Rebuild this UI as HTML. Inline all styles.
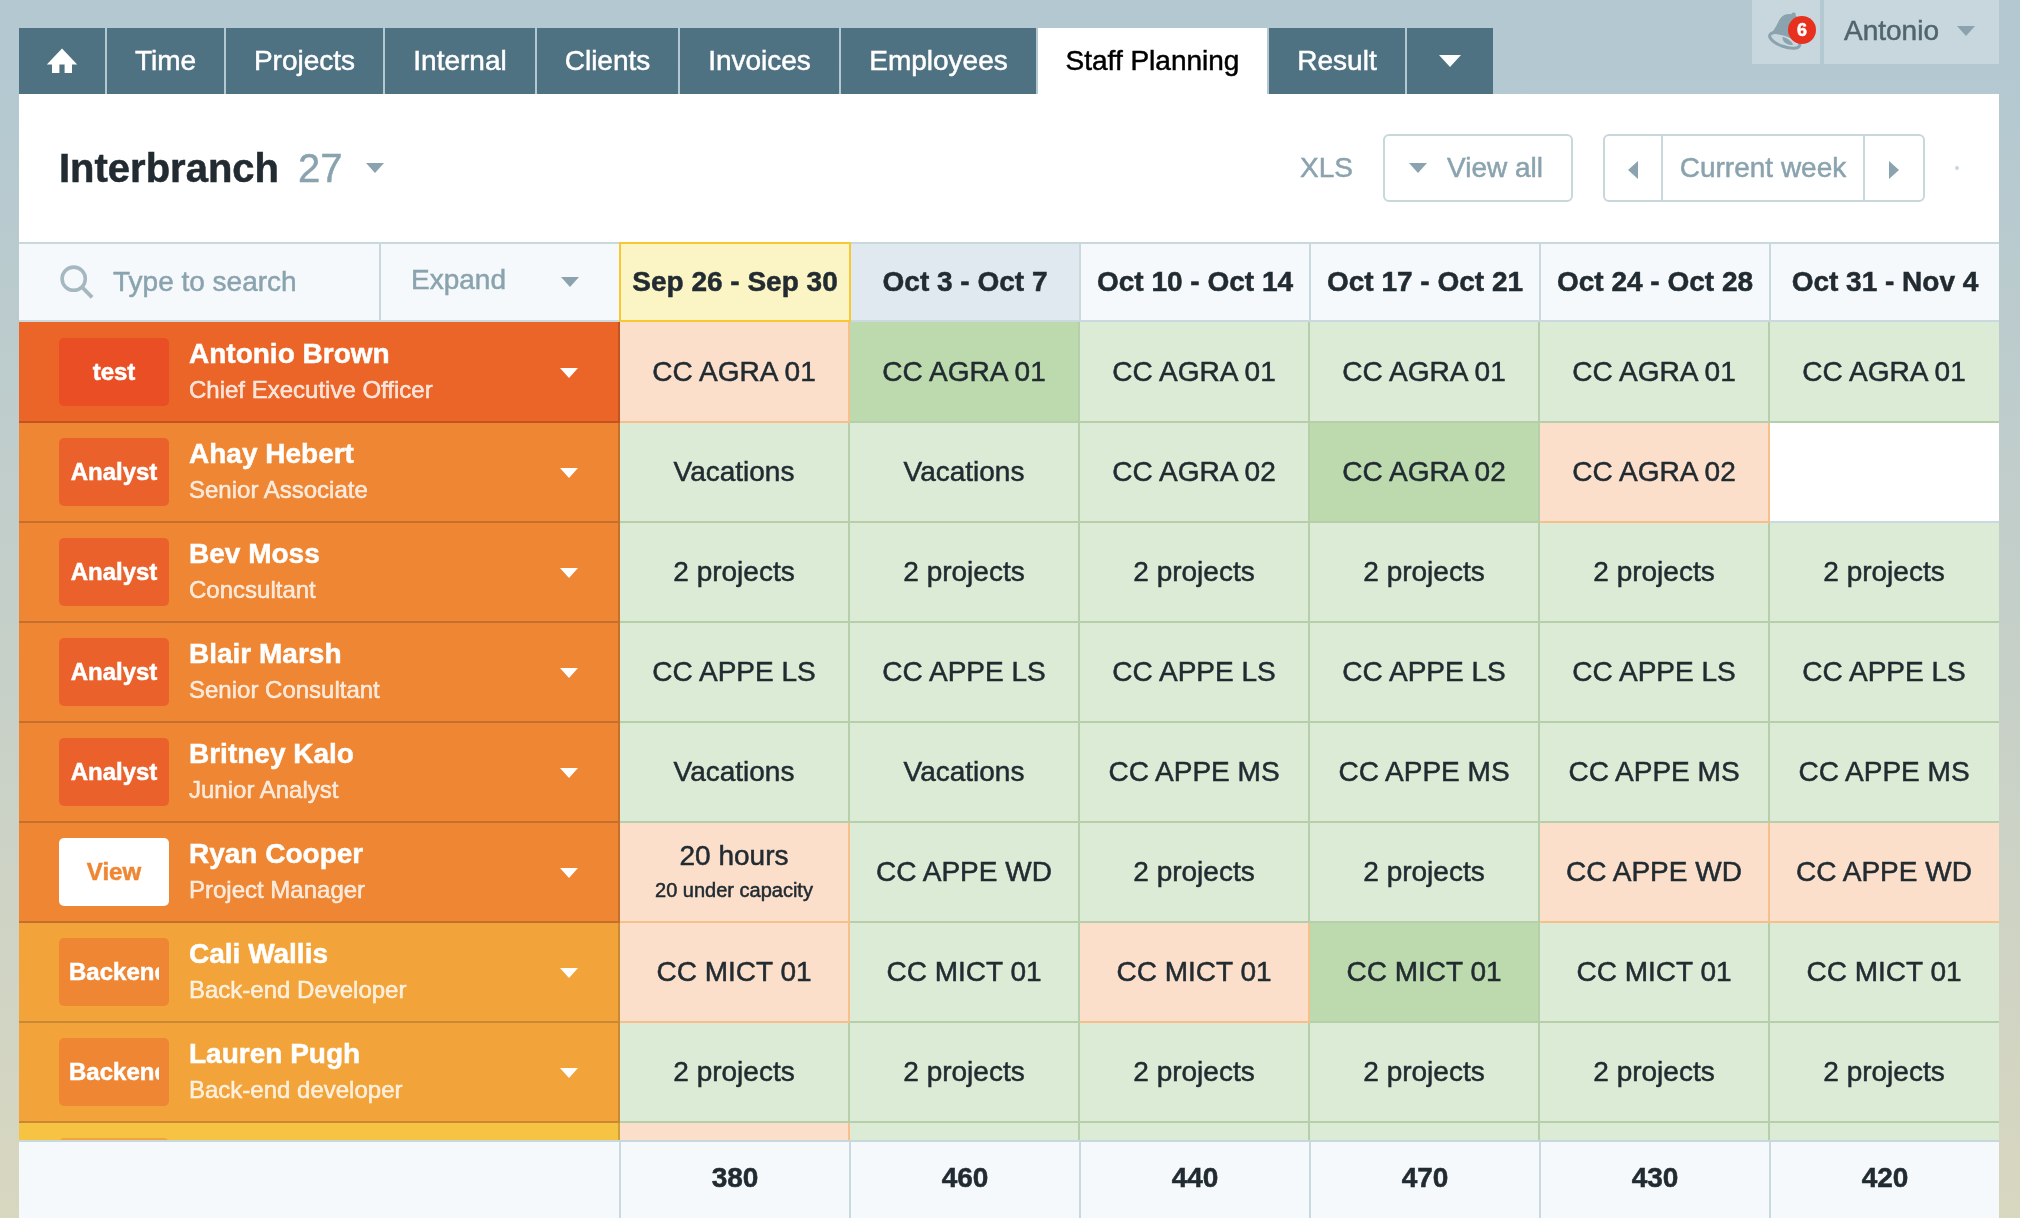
<!DOCTYPE html>
<html lang="en">
<head>
<meta charset="utf-8">
<title>Staff Planning</title>
<style>
*{box-sizing:border-box;margin:0;padding:0}
html{background:#b3c8d1}
body{width:2020px;height:1218px;position:relative;font-family:"Liberation Sans",sans-serif;font-size:28px;color:#212b31;
 background:linear-gradient(to bottom,#b3c8d1 0,#b3c8d1 60px,#d8d7c0 1218px) no-repeat 0 0/2020px 1218px}
#app{position:absolute;left:0;top:0;width:2020px;height:1218px;overflow:hidden;will-change:transform;-webkit-text-stroke:0.5px}
.tri{position:absolute;width:0;height:0;border-style:solid;border-color:transparent;display:block}
.tri.td,.tri.tg,.tri.tw{border-width:10px 9px 0 9px}
.tri.td{border-top-color:#8aa3ae}
.tri.tg{border-top-color:#8aa3ae}
.tri.tw{border-top-color:#fff}
.tri.tl{border-width:9px 10px 9px 0;border-right-color:#8aa3ae}
.tri.tr{border-width:9px 0 9px 10px;border-left-color:#8aa3ae}
.ubox{position:absolute;top:0;height:64px;background:#c8d7de}
.bellbox{left:1752px;width:68px}
.bell{position:absolute;left:0;top:0}
.cnt{position:absolute;left:36px;top:16px;width:28px;height:28px;border-radius:14px;background:#e8301f;color:#fff;font-weight:bold;font-size:18px;line-height:28px;text-align:center}
.userbox{left:1824px;width:175px}
.uname{position:absolute;left:20px;top:0;line-height:62px;color:#50656f}
.nav{position:absolute;left:0;top:28px;height:66px;width:2020px}
.tab{position:absolute;top:0;height:66px;background:#4f7283;color:#fff;text-align:center;line-height:66px;white-space:nowrap}
.tab.active{background:#fff;color:#000}
.tab svg{display:block}
.panel{position:absolute;left:19px;top:94px;width:1980px;height:1124px;background:#fff;overflow:hidden}
.panel>.tri{margin-left:-19px;margin-top:-94px}
.title{position:absolute;left:40px;top:50px;font-size:40px;line-height:48px;white-space:nowrap}
.title .num{color:#8aa3ae;margin-left:19px}
.xls{position:absolute;left:1281px;top:58px;line-height:32px;color:#8aa3ae}
.btn{position:absolute;top:40px;height:68px;border:2px solid #c7d7dc;border-radius:6px;color:#8aa3ae;background:#fff}
.viewall{left:1364px;width:190px}
.viewall span{position:absolute;left:62px;top:0;line-height:64px;white-space:nowrap}
.week{left:1584px;width:322px}
.week .cw{position:absolute;left:56px;top:0;width:204px;height:64px;border-left:2px solid #c8d9de;border-right:2px solid #c8d9de;text-align:center;line-height:64px;white-space:nowrap}
.dot{position:absolute;left:1936px;top:72px;width:4px;height:4px;border-radius:2px;background:#c8d9de}
.thead{position:absolute;left:0;top:148px;width:1980px;height:80px;background:#f5f9fb;border-top:2px solid #c8d9de;border-bottom:2px solid #c9d9de}
.search{position:absolute;left:0;top:0;width:362px;height:76px;border-right:2px solid #c8d9de;color:#8aa3ae}
.search .mag{position:absolute;left:40px;top:20px}
.search span{position:absolute;left:94px;top:0;line-height:76px;white-space:nowrap}
.expand{position:absolute;left:362px;top:0;width:238px;height:76px;color:#8aa3ae}
.expand span{position:absolute;left:30px;top:0;line-height:72px}
.hc{position:absolute;top:0;width:230px;height:76px;border-left:2px solid #c9d9de;text-align:center;font-weight:bold;line-height:76px;white-space:nowrap}
.hc.cur{top:-2px;left:600px!important;width:232px;height:80px;border:2px solid #f8c832;background:#fbf4c4;z-index:2;line-height:76px}
.hc.nxt{background:#dfe9ef}
.tbody{position:absolute;left:0;top:228px;width:1980px;height:818px;overflow:hidden;background:#fff}
.row{position:absolute;left:0;width:1980px;height:100px}
.emp{position:absolute;left:0;top:0;width:601px;height:100px;border-right:2px solid rgba(0,0,0,.17);border-bottom:2px solid rgba(0,0,0,.17);color:#fff}
.r1 .emp{background:#eb6529}
.r2 .emp{background:#ee8633}
.r3 .emp{background:#f2a43b}
.r4 .emp{background:#f6c342}
.badge{position:absolute;left:40px;top:15px;width:110px;height:68px;border-radius:5px;text-align:center;font-weight:bold;font-size:24px;line-height:68px;white-space:nowrap}
.bi{margin:0 10px;overflow:hidden;height:68px}
.b1{background:#e94e24}
.b2{background:#ea612c}
.b3{background:#ee8633}
.b4{background:#f2a43b}
.bv{background:#fff;color:#ee8633}
.nm{position:absolute;left:170px;top:14px;font-weight:bold;line-height:34px;white-space:nowrap}
.ti{position:absolute;left:170px;top:52px;font-size:24px;line-height:30px;white-space:nowrap;color:rgba(255,255,255,.8)}
.cell{position:absolute;top:0;width:230px;height:100px;border-right:2px solid #b7ceaa;border-bottom:2px solid #b7ceaa;text-align:center;line-height:98px;white-space:nowrap}
.cell.g{background:#dcebd6}
.cell.d{background:#bddaae}
.cell.p{background:#fbdfcb;border-color:#f7c08a}
.cell.w{background:#fff;border-color:#fff #fff #c9d9df #fff}
.two{position:absolute;left:0;top:0;width:228px}
.two .l1{line-height:32px;margin-top:17px}
.two .l2{font-size:20px;line-height:24px;margin-top:6px}
.tfoot{position:absolute;left:0;top:1046px;width:1980px;height:78px;background:#f5f9fb;border-top:2px solid #c8d9de}
.fc{position:absolute;top:0;width:230px;height:76px;border-left:2px solid #c9d9de;text-align:center;font-weight:bold;line-height:72px}
.first .emp,.first .cell{top:-1px;height:101px;padding-top:1px}
.first .emp>*{margin-top:1px}
.first .two{top:1px}
.cell.last{border-right:0;padding-right:2px}
</style>
</head>
<body>
<div id="app">
<div class="ubox bellbox"><svg class="bell" width="68" height="64" viewBox="0 0 68 64"><g transform="translate(32.7,40.3) rotate(19)" fill="#8aa3ae"><path d="M-15.2 -1.6 C-13.6 -6 -12.7 -10 -12.1 -15 C-11.5 -21.5 -8 -27 0 -27 C8 -27 11.5 -21.5 12.1 -15 C12.7 -10 13.6 -6 15.2 -1.6 C8 -5 -8 -5 -15.2 -1.6 Z"/><circle cx="0" cy="-27" r="2.3"/><ellipse cx="0" cy="0" rx="15.8" ry="6.3" fill="none" stroke="#8aa3ae" stroke-width="3"/><path d="M-3 -2.7 C-2.8 2.4 4.6 4.2 9.6 1.4 C6.6 -1.4 1.2 -3 -3 -2.7 Z"/></g></svg><span class="cnt">6</span></div>
<div class="ubox userbox"><span class="uname">Antonio</span><i class="tri td" style="left:133px;top:26px"></i></div>
<div class="nav">
<div class="tab" style="left:19px;width:86px"><svg width="86" height="66" viewBox="19 28 86 66"><path fill="#fff" d="M62 48.6 L46.8 64.5 L52 64.5 L52 73 L59.4 73 L59.4 64.5 L64.6 64.5 L64.6 73 L72 73 L72 64.5 L77.2 64.5 Z"/></svg></div>
<div class="tab" style="left:107px;width:117px">Time</div>
<div class="tab" style="left:226px;width:157px">Projects</div>
<div class="tab" style="left:385px;width:150px">Internal</div>
<div class="tab" style="left:537px;width:141px">Clients</div>
<div class="tab" style="left:680px;width:159px">Invoices</div>
<div class="tab" style="left:841px;width:195px">Employees</div>
<div class="tab active" style="left:1038px;width:229px">Staff Planning</div>
<div class="tab" style="left:1269px;width:136px">Result</div>
<div class="tab" style="left:1407px;width:86px"><i class="tri tw" style="left:32px;top:27px;border-width:12px 11px 0 11px"></i></div>
</div>
<div class="panel">
<div class="title"><b>Interbranch</b><span class="num">27</span></div><i class="tri tg" style="left:366px;top:163px"></i>
<div class="xls">XLS</div>
<div class="btn viewall"><i class="tri tg" style="left:24px;top:27px"></i><span>View all</span></div>
<div class="btn week"><i class="tri tl" style="left:23px;top:25px"></i><div class="cw">Current week</div><i class="tri tr" style="left:284px;top:25px"></i></div>
<div class="dot"></div>
<div class="thead">
<div class="search"><svg width="40" height="40" viewBox="0 0 40 40" class="mag"><circle cx="14.7" cy="14.7" r="11.6" fill="none" stroke="#a5b8c1" stroke-width="3.6"/><path d="M22.6 22.6 L33.1 33.3" stroke="#a5b8c1" stroke-width="3.8" stroke-linecap="butt"/></svg><span>Type to search</span></div>
<div class="expand"><span>Expand</span><i class="tri tg" style="left:180px;top:33px"></i></div>
<div class="hc cur" style="left:600px">Sep 26 - Sep 30</div>
<div class="hc nxt" style="left:830px">Oct 3 - Oct 7</div>
<div class="hc" style="left:1060px">Oct 10 - Oct 14</div>
<div class="hc" style="left:1290px">Oct 17 - Oct 21</div>
<div class="hc" style="left:1520px">Oct 24 - Oct 28</div>
<div class="hc" style="left:1750px">Oct 31 - Nov 4</div>
</div>
<div class="tbody">
<div class="row r1 first" style="top:1px">
<div class="emp"><div class="badge b1"><div class="bi">test</div></div><div class="nm">Antonio Brown</div><div class="ti">Chief Executive Officer</div><i class="tri tw" style="left:541px;top:45px"></i></div>
<div class="cell p" style="left:601px"><span>CC AGRA 01</span></div><div class="cell d" style="left:831px"><span>CC AGRA 01</span></div><div class="cell g" style="left:1061px"><span>CC AGRA 01</span></div><div class="cell g" style="left:1291px"><span>CC AGRA 01</span></div><div class="cell g" style="left:1521px"><span>CC AGRA 01</span></div><div class="cell g last" style="left:1751px"><span>CC AGRA 01</span></div>
</div>
<div class="row r2" style="top:101px">
<div class="emp"><div class="badge b2"><div class="bi">Analyst</div></div><div class="nm">Ahay Hebert</div><div class="ti">Senior Associate</div><i class="tri tw" style="left:541px;top:45px"></i></div>
<div class="cell g" style="left:601px"><span>Vacations</span></div><div class="cell g" style="left:831px"><span>Vacations</span></div><div class="cell g" style="left:1061px"><span>CC AGRA 02</span></div><div class="cell d" style="left:1291px"><span>CC AGRA 02</span></div><div class="cell p" style="left:1521px"><span>CC AGRA 02</span></div><div class="cell w last" style="left:1751px"></div>
</div>
<div class="row r2" style="top:201px">
<div class="emp"><div class="badge b2"><div class="bi">Analyst</div></div><div class="nm">Bev Moss</div><div class="ti">Concsultant</div><i class="tri tw" style="left:541px;top:45px"></i></div>
<div class="cell g" style="left:601px"><span>2 projects</span></div><div class="cell g" style="left:831px"><span>2 projects</span></div><div class="cell g" style="left:1061px"><span>2 projects</span></div><div class="cell g" style="left:1291px"><span>2 projects</span></div><div class="cell g" style="left:1521px"><span>2 projects</span></div><div class="cell g last" style="left:1751px"><span>2 projects</span></div>
</div>
<div class="row r2" style="top:301px">
<div class="emp"><div class="badge b2"><div class="bi">Analyst</div></div><div class="nm">Blair Marsh</div><div class="ti">Senior Consultant</div><i class="tri tw" style="left:541px;top:45px"></i></div>
<div class="cell g" style="left:601px"><span>CC APPE LS</span></div><div class="cell g" style="left:831px"><span>CC APPE LS</span></div><div class="cell g" style="left:1061px"><span>CC APPE LS</span></div><div class="cell g" style="left:1291px"><span>CC APPE LS</span></div><div class="cell g" style="left:1521px"><span>CC APPE LS</span></div><div class="cell g last" style="left:1751px"><span>CC APPE LS</span></div>
</div>
<div class="row r2" style="top:401px">
<div class="emp"><div class="badge b2"><div class="bi">Analyst</div></div><div class="nm">Britney Kalo</div><div class="ti">Junior Analyst</div><i class="tri tw" style="left:541px;top:45px"></i></div>
<div class="cell g" style="left:601px"><span>Vacations</span></div><div class="cell g" style="left:831px"><span>Vacations</span></div><div class="cell g" style="left:1061px"><span>CC APPE MS</span></div><div class="cell g" style="left:1291px"><span>CC APPE MS</span></div><div class="cell g" style="left:1521px"><span>CC APPE MS</span></div><div class="cell g last" style="left:1751px"><span>CC APPE MS</span></div>
</div>
<div class="row r2" style="top:501px">
<div class="emp"><div class="badge bv"><div class="bi">View</div></div><div class="nm">Ryan Cooper</div><div class="ti">Project Manager</div><i class="tri tw" style="left:541px;top:45px"></i></div>
<div class="cell p" style="left:601px"><div class="two"><div class="l1">20 hours</div><div class="l2">20 under capacity</div></div></div><div class="cell g" style="left:831px"><span>CC APPE WD</span></div><div class="cell g" style="left:1061px"><span>2 projects</span></div><div class="cell g" style="left:1291px"><span>2 projects</span></div><div class="cell p" style="left:1521px"><span>CC APPE WD</span></div><div class="cell p last" style="left:1751px"><span>CC APPE WD</span></div>
</div>
<div class="row r3" style="top:601px">
<div class="emp"><div class="badge b3"><div class="bi">Backend</div></div><div class="nm">Cali Wallis</div><div class="ti">Back-end Developer</div><i class="tri tw" style="left:541px;top:45px"></i></div>
<div class="cell p" style="left:601px"><span>CC MICT 01</span></div><div class="cell g" style="left:831px"><span>CC MICT 01</span></div><div class="cell p" style="left:1061px"><span>CC MICT 01</span></div><div class="cell d" style="left:1291px"><span>CC MICT 01</span></div><div class="cell g" style="left:1521px"><span>CC MICT 01</span></div><div class="cell g last" style="left:1751px"><span>CC MICT 01</span></div>
</div>
<div class="row r3" style="top:701px">
<div class="emp"><div class="badge b3"><div class="bi">Backend</div></div><div class="nm">Lauren Pugh</div><div class="ti">Back-end developer</div><i class="tri tw" style="left:541px;top:45px"></i></div>
<div class="cell g" style="left:601px"><span>2 projects</span></div><div class="cell g" style="left:831px"><span>2 projects</span></div><div class="cell g" style="left:1061px"><span>2 projects</span></div><div class="cell g" style="left:1291px"><span>2 projects</span></div><div class="cell g" style="left:1521px"><span>2 projects</span></div><div class="cell g last" style="left:1751px"><span>2 projects</span></div>
</div>
<div class="row r4" style="top:801px">
<div class="emp"><div class="badge b4"><div class="bi"></div></div></div>
<div class="cell p" style="left:601px"></div><div class="cell g" style="left:831px"></div><div class="cell g" style="left:1061px"></div><div class="cell g" style="left:1291px"></div><div class="cell g" style="left:1521px"></div><div class="cell g last" style="left:1751px"></div>
</div>
</div>
<div class="tfoot">
<div class="fc" style="left:600px">380</div><div class="fc" style="left:830px">460</div><div class="fc" style="left:1060px">440</div><div class="fc" style="left:1290px">470</div><div class="fc" style="left:1520px">430</div><div class="fc" style="left:1750px">420</div>
</div>
</div>
</div>
</body>
</html>
